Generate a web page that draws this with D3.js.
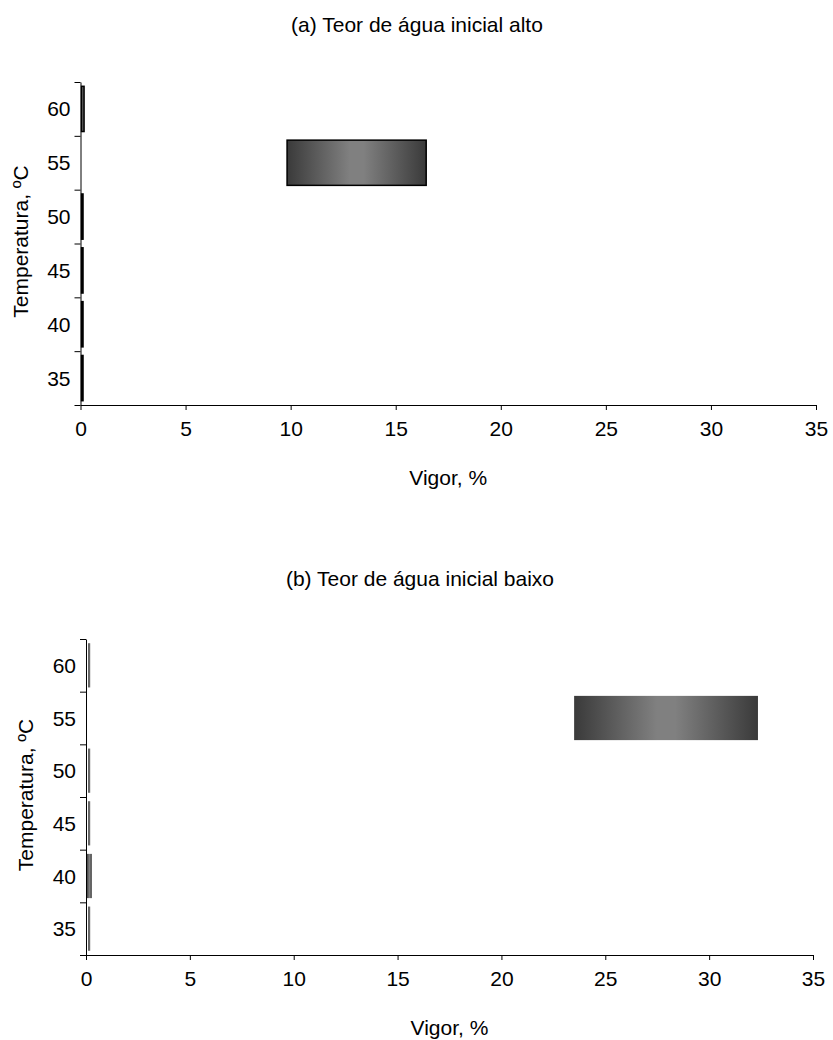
<!DOCTYPE html>
<html>
<head>
<meta charset="utf-8">
<script src="https://cdn.jsdelivr.net/npm/d3@7"></script>
<style>
  body { margin: 0; background: #fff; }
  svg { display: block; font-family: "Liberation Sans", Arial, sans-serif; }
</style>
</head>
<body>
<svg id="chart" width="833" height="1040"></svg>
<script>
// Temperature classes (bottom to top) and vigor ranges (%), floating bars
const temperatures = ["35", "40", "45", "50", "55", "60"];
const xTicks = [0, 5, 10, 15, 20, 25, 30, 35];

// (a) high initial water content
const altoStart = [0.05, 0.05, 0.05, 0.05, 9.83, 0.05];
const altoEnd   = [0.12, 0.12, 0.12, 0.12, 16.45, 0.17];

// (b) low initial water content
const baixoStart = [0.1, 0.05, 0.1, 0.1, 23.5, 0.1];
const baixoEnd   = [0.2, 0.28, 0.2, 0.2, 32.35, 0.2];

const FONT = 21;
const svg = d3.select("#chart");

// horizontal gradient used for bar fills (dark edges, lighter middle)
const defs = svg.append("defs");
const grad = defs.append("linearGradient")
  .attr("id", "barGrad")
  .attr("x1", "0%").attr("x2", "100%").attr("y1", "0%").attr("y2", "0%");
[[0, "#3a3a3a"], [0.45, "#808080"], [0.55, "#808080"], [1, "#3a3a3a"]]
  .forEach(([o, c]) => grad.append("stop").attr("offset", o).attr("stop-color", c));

function panel(cfg) {
  const { title, titleX, titleY, left, right, top, bottom, starts, ends, bordered, yTitleX, xTitleY } = cfg;
  const g = svg.append("g");

  const x = d3.scaleLinear().domain([0, 35]).range([left, right]);
  const y = d3.scaleBand().domain(temperatures.slice().reverse()).range([top, bottom]).paddingInner(0.16).paddingOuter(0.08);
  const yIdx = d3.scaleLinear().domain([0, temperatures.length]).range([bottom, top]);

  g.append("text")
    .attr("x", titleX).attr("y", titleY)
    .attr("text-anchor", "middle").attr("font-size", FONT).attr("fill", "#000")
    .text(title);

  // bars
  const rows = temperatures.map((t, i) => ({ t, s: starts[i], e: ends[i] }));
  g.selectAll("rect.bar").data(rows).join("rect")
    .attr("class", "bar")
    .attr("x", d => x(d.s))
    .attr("width", d => Math.max(0.6, x(d.e) - x(d.s)))
    .attr("y", d => y(d.t))
    .attr("height", y.bandwidth())
    .attr("fill", "url(#barGrad)")
    .attr("stroke", bordered ? "#000" : "none")
    .attr("stroke-width", bordered ? 1.5 : 0);

  // x axis
  const xAxis = g.append("g")
    .attr("transform", `translate(0,${bottom})`)
    .call(d3.axisBottom(x).tickValues(xTicks).tickSize(5).tickSizeOuter(0).tickPadding(11));
  xAxis.select(".domain").attr("stroke", "#000");
  xAxis.selectAll(".tick line").attr("stroke", "#000");
  xAxis.selectAll("text").attr("font-size", FONT).attr("fill", "#000")
    .attr("font-family", "'Liberation Sans', Arial, sans-serif");

  // y axis: ticks at category boundaries, labels centred in each band
  const yAxis = g.append("g")
    .attr("transform", `translate(${left},0)`)
    .call(d3.axisLeft(yIdx).tickValues(d3.range(0, temperatures.length + 1)).tickSize(6).tickSizeOuter(0).tickFormat(""));
  yAxis.select(".domain").attr("stroke", "#000");
  yAxis.selectAll(".tick line").attr("stroke", "#000");

  g.selectAll("text.ylab").data(temperatures).join("text")
    .attr("class", "ylab")
    .attr("x", left - 10)
    .attr("y", d => y(d) + y.bandwidth() / 2)
    .attr("dy", "0.36em")
    .attr("text-anchor", "end")
    .attr("font-size", FONT).attr("fill", "#000")
    .text(d => d);

  g.append("text")
    .attr("transform", `translate(${yTitleX},${(top + bottom) / 2 - 2}) rotate(-90)`)
    .attr("text-anchor", "middle").attr("font-size", FONT).attr("fill", "#000")
    .text("Temperatura, ºC");

  g.append("text")
    .attr("x", (left + right) / 2).attr("y", xTitleY)
    .attr("text-anchor", "middle").attr("font-size", FONT).attr("fill", "#000")
    .text("Vigor, %");
}

panel({
  title: "(a) Teor de água inicial alto", titleX: 417, titleY: 32,
  left: 80.5, right: 816, top: 82, bottom: 405,
  starts: altoStart, ends: altoEnd, bordered: true,
  yTitleX: 28, xTitleY: 485
});

panel({
  title: "(b) Teor de água inicial baixo", titleX: 420, titleY: 586,
  left: 86, right: 813, top: 639, bottom: 955,
  starts: baixoStart, ends: baixoEnd, bordered: false,
  yTitleX: 33, xTitleY: 1035
});
</script>
</body>
</html>
